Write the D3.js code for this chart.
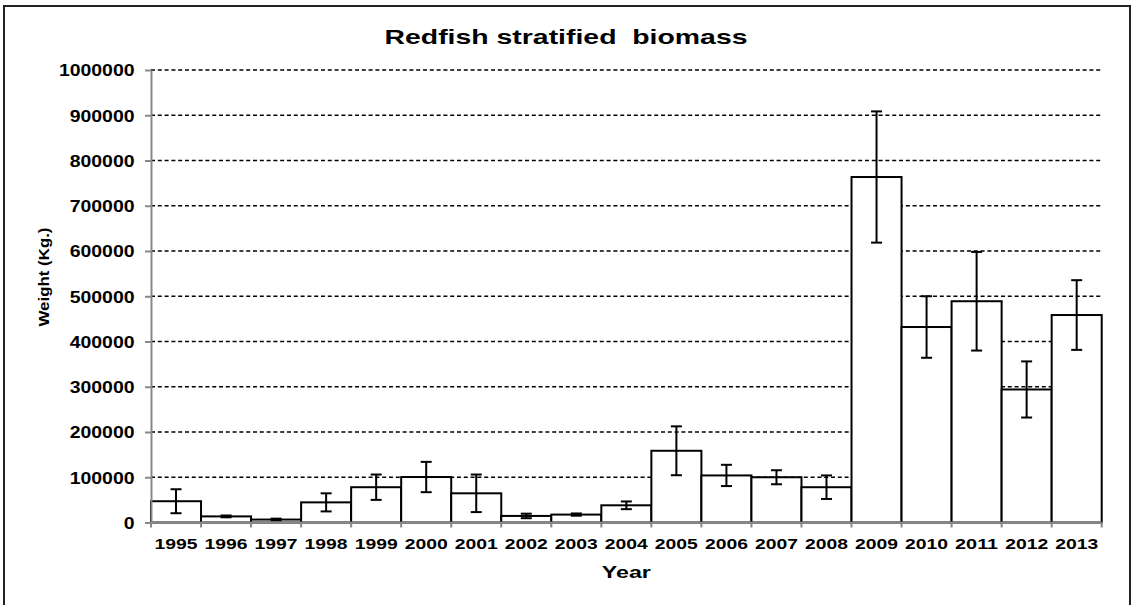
<!DOCTYPE html>
<html>
<head>
<meta charset="utf-8">
<script src="https://cdn.jsdelivr.net/npm/d3@7"></script>
<style>
  html, body { margin: 0; padding: 0; background: #fff; }
  svg { display: block; font-family: Arial, "Liberation Sans", sans-serif; }
</style>
</head>
<body>
<svg id="chart" width="1134" height="605"></svg>
<script>
// Survey years on the category axis
const years = ["1995","1996","1997","1998","1999","2000","2001","2002","2003","2004",
               "2005","2006","2007","2008","2009","2010","2011","2012","2013"];
// Stratified biomass estimate per year (kg)
const biomass = [47000, 13500, 6500, 44500, 78000, 100500, 64500, 14500, 17500, 38000,
                 158500, 104000, 100000, 78000, 763500, 432000, 489000, 294000, 458500];
// Half-width of the error bar per year (kg)
const errorHalf = [26500, 2000, 2000, 20000, 28000, 33500, 41500, 5000, 2500, 8500,
                   54000, 23500, 15500, 26000, 145000, 68000, 109000, 62000, 77000];
// Value-axis ticks
const yTicks = [0, 100000, 200000, 300000, 400000, 500000, 600000, 700000, 800000, 900000, 1000000];

const svg = d3.select("#chart");
const plotLeft = 151, plotRight = 1101.7, plotTop = 70, plotBottom = 522.5;

const x = d3.scaleBand().domain(years).range([plotLeft, plotRight]).padding(0);
const y = d3.scaleLinear().domain([0, 1000000]).range([plotBottom, plotTop]);

// outer frame
svg.append("rect")
  .attr("x", 4).attr("y", 6).attr("width", 1126).attr("height", 610)
  .attr("fill", "#fff").attr("stroke", "#222").attr("stroke-width", 2);

// title
svg.append("text")
  .attr("x", 566).attr("y", 43.5)
  .attr("text-anchor", "middle")
  .attr("font-size", 21).attr("font-weight", "bold")
  .attr("textLength", 363).attr("lengthAdjust", "spacingAndGlyphs")
  .style("white-space", "pre")
  .text("Redfish stratified  biomass");

// dashed horizontal gridlines
svg.append("g").selectAll("line")
  .data(yTicks.filter(d => d > 0))
  .join("line")
  .attr("x1", plotLeft).attr("x2", plotRight)
  .attr("y1", d => y(d)).attr("y2", d => y(d))
  .attr("stroke", "#000").attr("stroke-width", 1.4)
  .attr("stroke-dasharray", "4,2.8");

// bars
svg.append("g").selectAll("rect")
  .data(years)
  .join("rect")
  .attr("x", d => x(d))
  .attr("y", (d, i) => y(biomass[i]))
  .attr("width", x.bandwidth())
  .attr("height", (d, i) => y(0) - y(biomass[i]))
  .attr("fill", "#fff").attr("stroke", "#000").attr("stroke-width", 2);

// error bars
const eb = svg.append("g").attr("stroke", "#000").attr("stroke-width", 2);
years.forEach((yr, i) => {
  const cx = x(yr) + x.bandwidth() / 2;
  const hi = y(biomass[i] + errorHalf[i]);
  const lo = y(Math.max(0, biomass[i] - errorHalf[i]));
  eb.append("line").attr("x1", cx).attr("x2", cx).attr("y1", hi).attr("y2", lo);
  eb.append("line").attr("x1", cx - 5.5).attr("x2", cx + 5.5).attr("y1", hi).attr("y2", hi);
  eb.append("line").attr("x1", cx - 5.5).attr("x2", cx + 5.5).attr("y1", lo).attr("y2", lo);
});

// y axis
const yAxis = svg.append("g")
  .attr("transform", `translate(${plotLeft},0)`)
  .call(d3.axisLeft(y).tickValues(yTicks).tickSize(6).tickSizeOuter(0).tickFormat(d3.format("d")));
yAxis.select(".domain").attr("stroke", "#888").attr("stroke-width", 2);
yAxis.selectAll(".tick line").attr("stroke", "#888").attr("stroke-width", 2);
yAxis.selectAll(".tick text")
  .attr("x", -16.5).attr("dy", "0.36em")
  .attr("font-size", 16).attr("font-weight", "bold").attr("fill", "#000")
  .attr("font-family", "Arial, 'Liberation Sans', sans-serif")
  .attr("textLength", d => String(d).length * 10.8)
  .attr("lengthAdjust", "spacingAndGlyphs");

// x axis with ticks at category boundaries
const xAxis = svg.append("g").attr("transform", `translate(0,${plotBottom})`);
xAxis.append("line")
  .attr("x1", plotLeft).attr("x2", plotRight).attr("y1", 0).attr("y2", 0)
  .attr("stroke", "#888").attr("stroke-width", 2);
const boundaries = years.map(d => x(d)).concat([plotRight]);
xAxis.selectAll("line.tk")
  .data(boundaries)
  .join("line").attr("class", "tk")
  .attr("x1", d => d).attr("x2", d => d).attr("y1", 0).attr("y2", 5)
  .attr("stroke", "#888").attr("stroke-width", 2);
xAxis.selectAll("text")
  .data(years)
  .join("text")
  .attr("x", d => x(d) + x.bandwidth() / 2)
  .attr("y", 26.5)
  .attr("text-anchor", "middle")
  .attr("font-size", 15).attr("font-weight", "bold")
  .attr("textLength", 43).attr("lengthAdjust", "spacingAndGlyphs")
  .text(d => d);

// axis titles
svg.append("text")
  .attr("x", (plotLeft + plotRight) / 2).attr("y", 577.5)
  .attr("text-anchor", "middle")
  .attr("font-size", 17).attr("font-weight", "bold")
  .attr("textLength", 49).attr("lengthAdjust", "spacingAndGlyphs")
  .text("Year");

svg.append("text")
  .attr("transform", "translate(49,277) rotate(-90)")
  .attr("text-anchor", "middle")
  .attr("font-size", 15).attr("font-weight", "bold")
  .attr("textLength", 99).attr("lengthAdjust", "spacingAndGlyphs")
  .text("Weight (Kg.)");
</script>
</body>
</html>
